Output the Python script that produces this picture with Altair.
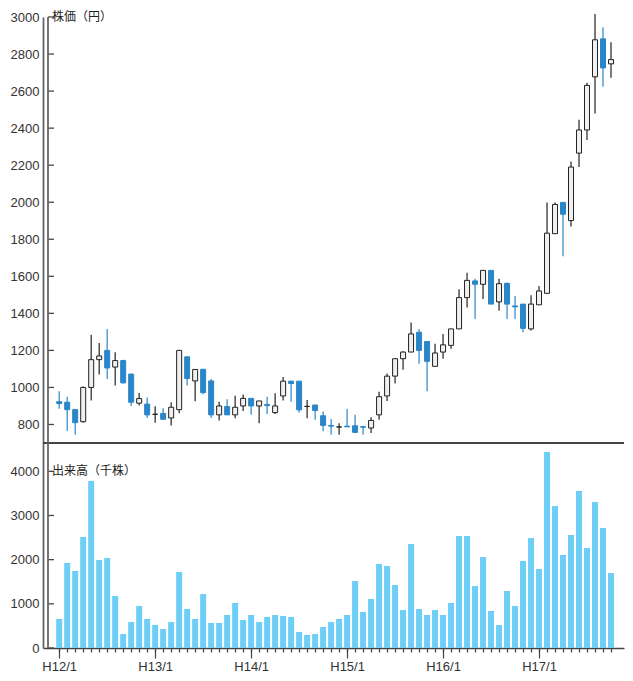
import altair as alt
import pandas as pd

# ---- data (monthly, H12/1 .. H17/10) ----
open_ = [923, 920, 880, 815, 1000, 1150, 1200, 1110, 1145, 1072,
         915, 910, 855, 860, 835, 880, 1165, 1035, 1098, 1035,
         852, 897, 852, 900, 941, 900, 908, 864, 954, 1034,
         1034, 897, 905, 847, 795, 786, 791, 793, 788, 781,
         852, 954, 1061, 1155, 1191, 1298, 1248, 1114, 1191, 1227,
         1316, 1485, 1575, 1557, 1632, 1462, 1562, 1440, 1450, 1316,
         1446, 1508, 1830, 1999, 1901, 2265, 2390, 2677, 2882, 2747]
high = [980, 950, 885, 1005, 1285, 1240, 1315, 1190, 1150, 1075,
        970, 945, 898, 888, 920, 1200, 1168, 1100, 1100, 1045,
        923, 936, 955, 962, 941, 927, 950, 968, 1057, 1034,
        1034, 932, 905, 870, 829, 807, 884, 852, 793, 839,
        977, 1075, 1155, 1195, 1351, 1316, 1248, 1236, 1289, 1316,
        1530, 1619, 1587, 1632, 1632, 1587, 1566, 1494, 1450, 1498,
        1548, 1999, 1999, 1999, 2220, 2445, 2645, 3016, 2945, 2863]
low = [885, 765, 745, 810, 930, 1070, 1045, 1010, 1020, 900,
       903, 835, 810, 826, 795, 860, 1010, 925, 963, 835,
       822, 852, 834, 873, 852, 807, 857, 857, 929, 923,
       864, 834, 825, 763, 745, 745, 786, 754, 745, 754,
       825, 927, 1021, 1096, 1191, 1128, 980, 1114, 1155, 1209,
       1316, 1432, 1369, 1477, 1450, 1414, 1369, 1369, 1298, 1307,
       1446, 1508, 1830, 1708, 1869, 2190, 2336, 2479, 2624, 2672]
close = [913, 880, 810, 1000, 1150, 1170, 1105, 1145, 1025, 920,
         940, 852, 855, 828, 893, 1200, 1048, 1097, 972, 852,
         900, 852, 893, 941, 900, 927, 902, 900, 1034, 1021,
         879, 898, 875, 795, 791, 787, 787, 757, 785, 822,
         950, 1061, 1155, 1191, 1289, 1200, 1141, 1186, 1230, 1316,
         1485, 1578, 1557, 1632, 1450, 1560, 1450, 1435, 1319, 1450,
         1521, 1833, 1988, 1935, 2190, 2390, 2631, 2877, 2725, 2770]
volume = [657, 1925, 1743, 2513, 3781, 1992, 2038, 1177, 317, 589,
          951, 657, 521, 430, 589, 1721, 883, 657, 1223, 566,
          566, 747, 1019, 634, 747, 589, 702, 747, 725, 702,
          362, 294, 317, 475, 589, 657, 747, 1517, 815, 1109,
          1902, 1857, 1426, 860, 2355, 883, 747, 860, 747, 1019,
          2536, 2536, 1404, 2060, 838, 521, 1291, 951, 1970, 2491,
          1789, 4438, 3215, 2106, 2558, 3555, 2264, 3306, 2717, 1698]
months = list(range(len(open_)))
year_ticks = [0, 12, 24, 36, 48, 60]
year_labels = ["H12/1", "H13/1", "H14/1", "H15/1", "H16/1", "H17/1"]
price_ticks = [800, 1000, 1200, 1400, 1600, 1800, 2000, 2200, 2400, 2600, 2800, 3000]
volume_ticks = [0, 1000, 2000, 3000, 4000]
price_title = "株価（円）"
volume_title = "出来高（千株）"

df = pd.DataFrame({"i": months, "open": open_, "high": high, "low": low,
                   "close": close, "volume": volume})
df["up"] = df["close"] >= df["open"]

BLUE = "#2A86C8"
DARK = "#222222"
AXIS = "#666666"
LABEL_FONT = "Liberation Sans"
JP_FONT = "Noto Sans CJK JP"
W = 581
PH = 426   # price band height
VH = 205   # volume band height
X_MIN, X_MAX = -1.4, 70.0
TICK_LEN = 0.74   # inner tick length, in month units (about 6 px)

xscale = alt.Scale(domain=[X_MIN, X_MAX], nice=False, zero=False)
price_y_scale = alt.Scale(domain=[700, 3000], range=[PH, 0], nice=False, zero=False)
vol_scale = alt.Scale(domain=[0, 4641], range=[PH + VH, PH], nice=False, zero=False)

label_expr = " : ".join(
    f"datum.value == {v} ? '{t}'" for v, t in zip(year_ticks, year_labels)
) + " : ''"


def yaxis(values):
    return alt.Axis(
        values=values, format="d", labelOverlap=False, orient="left",
        title=None, grid=False, ticks=False, labelPadding=4,
        domain=True, domainColor=AXIS, domainWidth=1.8,
        labelFontSize=13, labelFont=LABEL_FONT, labelColor="#333333",
    )


def inner_ticks(values, scale):
    # short ticks pointing into the plot, on the value axis
    return alt.Chart(pd.DataFrame({"v": values})).mark_rule(
        color="#444444", strokeWidth=1.3
    ).encode(
        y=alt.Y("v:Q", scale=scale, axis=yaxis(values)),
        x=alt.XDatum(X_MIN, type="quantitative", scale=xscale, axis=None),
        x2=alt.X2Datum(X_MIN + TICK_LEN),
    )


base = alt.Chart(df)
px = alt.X("i:Q", scale=xscale, axis=None)

# ---- price band ----
wick = base.mark_rule(strokeWidth=1.2).encode(
    x=px,
    y=alt.Y("low:Q", scale=price_y_scale, axis=yaxis(price_ticks)),
    y2="high:Q",
    color=alt.condition("datum.up", alt.value(DARK), alt.value(BLUE)),
)
body = base.mark_bar(size=5, strokeWidth=1).encode(
    x=px,
    y=alt.Y("open:Q", scale=price_y_scale, axis=yaxis(price_ticks)),
    y2="close:Q",
    fill=alt.condition("datum.up", alt.value("#f0f0f0"), alt.value(BLUE)),
    stroke=alt.condition("datum.up", alt.value(DARK), alt.value(BLUE)),
)
separator = alt.Chart(pd.DataFrame({"v": [700]})).mark_rule(
    color="#444444", strokeWidth=1.8
).encode(y=alt.Y("v:Q", scale=price_y_scale, axis=yaxis(price_ticks)))
axis_line = alt.Chart(pd.DataFrame({"a": [0]})).mark_rule(
    color=AXIS, strokeWidth=1.8
).encode(x=alt.XDatum(X_MIN, type="quantitative", scale=xscale, axis=None))
ptitle = alt.Chart(pd.DataFrame({"v": [price_ticks[-1]], "t": [price_title]})).mark_text(
    align="left", baseline="middle", font=JP_FONT, fontSize=12, color="#222222"
).encode(x=alt.value(9), y=alt.Y("v:Q", scale=price_y_scale, axis=yaxis(price_ticks)),
         text="t:N")
price = alt.layer(wick, body, separator, inner_ticks(price_ticks, price_y_scale), ptitle)

# ---- volume band ----
bars = base.mark_bar(size=6, color="#6DCFF6").encode(
    x=alt.X("i:Q", scale=xscale,
            axis=alt.Axis(values=months, tickSize=4, labels=False, title=None,
                          grid=False, domainColor="#444444", domainWidth=1.6,
                          tickColor="#444444", tickWidth=1.2, orient="bottom")),
    y=alt.Y("volume:Q", scale=vol_scale, axis=yaxis(volume_ticks)),
)
years = alt.Chart(pd.DataFrame({"i": year_ticks})).mark_rule(opacity=0).encode(
    x=alt.X("i:Q", scale=xscale,
            axis=alt.Axis(values=year_ticks, tickSize=10, labelExpr=label_expr,
                          title=None, grid=False, domain=False, orient="bottom",
                          tickColor="#444444", tickWidth=1.2, labelPadding=2,
                          labelFontSize=13, labelFont=LABEL_FONT,
                          labelColor="#333333")),
)
vtitle = alt.Chart(pd.DataFrame({"v": [volume_ticks[-1]], "t": [volume_title]})).mark_text(
    align="left", baseline="middle", font=JP_FONT, fontSize=12, color="#222222"
).encode(x=alt.value(9), y=alt.Y("v:Q", scale=vol_scale, axis=yaxis(volume_ticks)),
         text="t:N")
vol = alt.layer(bars, years, inner_ticks(volume_ticks, vol_scale), vtitle).resolve_axis(
    x="independent")

chart = alt.layer(price, vol, axis_line).resolve_scale(y="independent").resolve_axis(
    x="independent", y="independent"
).properties(
    width=W, height=PH + VH,
    padding={"left": 2, "top": 3, "right": 0, "bottom": 0},
).configure_view(stroke=None)

chart.save("out.html", embed_options={"renderer": "svg", "actions": False})
